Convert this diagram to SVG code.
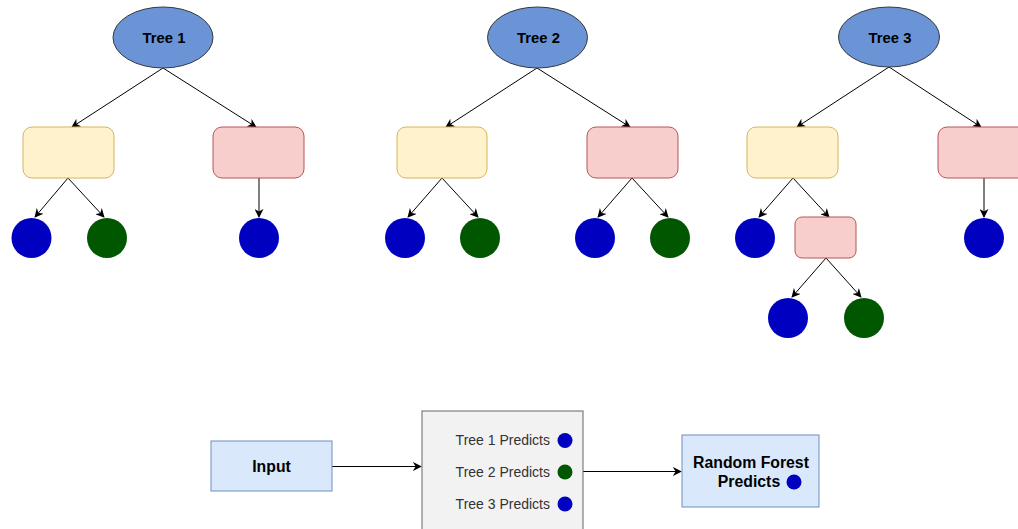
<svg xmlns="http://www.w3.org/2000/svg" width="1018" height="529" viewBox="0 0 1018 529">
<defs>
<marker id="ah" viewBox="0 0 10 10" refX="9" refY="5" markerWidth="9" markerHeight="9" markerUnits="userSpaceOnUse" orient="auto">
<path d="M0,0 L10,5 L0,10 L3,5 Z" fill="#000"/>
</marker>
<style>
.root{fill:#6b94d7;stroke:#36393d;stroke-width:1}
.yel{fill:#fff2cc;stroke:#d6b656;stroke-width:1}
.pnk{fill:#f8cecc;stroke:#b85450;stroke-width:1}
.blu{fill:#0000c0}
.grn{fill:#005700}
.edge{stroke:#000;stroke-width:1;fill:none;marker-end:url(#ah)}
.lbl{font-family:"Liberation Sans",Arial,sans-serif;font-weight:bold;font-size:14.8px;fill:#000;text-anchor:middle}
.big{font-family:"Liberation Sans",Arial,sans-serif;font-weight:bold;font-size:15.8px;fill:#000;text-anchor:middle}
.pred{font-family:"Liberation Sans",Arial,sans-serif;font-size:14px;fill:#333;text-anchor:end}
</style>
</defs>
<rect width="1018" height="529" fill="#fff"/>
<g id="connectors">
<line class="edge" x1="163" y1="68" x2="72" y2="127"/>
<line class="edge" x1="163" y1="68" x2="256" y2="127"/>
<line class="edge" x1="68" y1="178" x2="35" y2="217"/>
<line class="edge" x1="68" y1="178" x2="104" y2="217"/>
<line class="edge" x1="259" y1="178" x2="259" y2="217"/>
<line class="edge" x1="537" y1="68" x2="446" y2="127"/>
<line class="edge" x1="537" y1="68" x2="630" y2="127"/>
<line class="edge" x1="442" y1="178" x2="408" y2="217"/>
<line class="edge" x1="442" y1="178" x2="478" y2="217"/>
<line class="edge" x1="632" y1="178" x2="598" y2="217"/>
<line class="edge" x1="632" y1="178" x2="668" y2="217"/>
<line class="edge" x1="889" y1="67" x2="797" y2="127"/>
<line class="edge" x1="889" y1="67" x2="981" y2="127"/>
<line class="edge" x1="793" y1="178" x2="759" y2="217"/>
<line class="edge" x1="793" y1="178" x2="829" y2="217"/>
<line class="edge" x1="826" y1="258" x2="792" y2="297"/>
<line class="edge" x1="826" y1="258" x2="861" y2="297"/>
<line class="edge" x1="984" y1="178" x2="984" y2="217"/>
<line class="edge" x1="332" y1="466.5" x2="421" y2="466.5"/>
<line class="edge" x1="583" y1="471.5" x2="681" y2="471.5"/>
</g>
<g id="tree1">
<ellipse class="root" cx="163" cy="37.5" rx="50" ry="30.5"/>
<text class="lbl" x="164" y="43">Tree 1</text>
</g>
<g id="t1-left"><rect class="yel" x="23" y="127" width="91" height="51" rx="9"/></g>
<g id="t1-right"><rect class="pnk" x="213" y="127" width="91" height="51" rx="9"/></g>
<g id="t1-leaf1"><circle class="blu" cx="31.5" cy="238" r="20"/></g>
<g id="t1-leaf2"><circle class="grn" cx="107" cy="238" r="20"/></g>
<g id="t1-leaf3"><circle class="blu" cx="259" cy="238" r="20"/></g>

<g id="tree2">
<ellipse class="root" cx="537.5" cy="37.5" rx="50" ry="30.5"/>
<text class="lbl" x="538.5" y="43">Tree 2</text>
</g>
<g id="t2-left"><rect class="yel" x="397" y="127" width="90" height="51" rx="9"/></g>
<g id="t2-right"><rect class="pnk" x="587" y="127" width="91" height="51" rx="9"/></g>
<g id="t2-leaf1"><circle class="blu" cx="405" cy="238" r="20"/></g>
<g id="t2-leaf2"><circle class="grn" cx="480" cy="238" r="20"/></g>
<g id="t2-leaf3"><circle class="blu" cx="595" cy="238" r="20"/></g>
<g id="t2-leaf4"><circle class="grn" cx="670" cy="238" r="20"/></g>

<g id="tree3">
<ellipse class="root" cx="889" cy="37" rx="50.5" ry="30"/>
<text class="lbl" x="890" y="42.5">Tree 3</text>
</g>
<g id="t3-left"><rect class="yel" x="747" y="127" width="91" height="51" rx="9"/></g>
<g id="t3-right"><rect class="pnk" x="938" y="127" width="91" height="51" rx="9"/></g>
<g id="t3-mid"><rect class="pnk" x="795" y="217" width="61" height="41" rx="7"/></g>
<g id="t3-leaf1"><circle class="blu" cx="755" cy="238" r="20"/></g>
<g id="t3-leaf2"><circle class="blu" cx="788" cy="318" r="20"/></g>
<g id="t3-leaf3"><circle class="grn" cx="864" cy="318" r="20"/></g>
<g id="t3-leaf4"><circle class="blu" cx="984" cy="238" r="20"/></g>

<g id="input">
<rect x="211" y="441" width="121" height="50" fill="#dae8fc" stroke="#6c8ebf"/>
<text class="big" x="271.5" y="472">Input</text>
</g>
<g id="predictions">
<rect x="422" y="411" width="161" height="130" fill="#f2f2f2" stroke="#666"/>
<text class="pred" x="550" y="445">Tree 1 Predicts</text>
<circle class="blu" cx="565" cy="440.5" r="7.5"/>
<text class="pred" x="550" y="476.5">Tree 2 Predicts</text>
<circle class="grn" cx="565" cy="472" r="7.5"/>
<text class="pred" x="550" y="509">Tree 3 Predicts</text>
<circle class="blu" cx="565" cy="504" r="7.5"/>
</g>
<g id="result">
<rect x="682" y="435" width="137" height="72" fill="#dae8fc" stroke="#6c8ebf"/>
<text class="big" x="751" y="468">Random Forest</text>
<text class="big" x="749" y="487">Predicts</text>
<circle class="blu" cx="794" cy="482" r="7.5"/>
</g>
</svg>
